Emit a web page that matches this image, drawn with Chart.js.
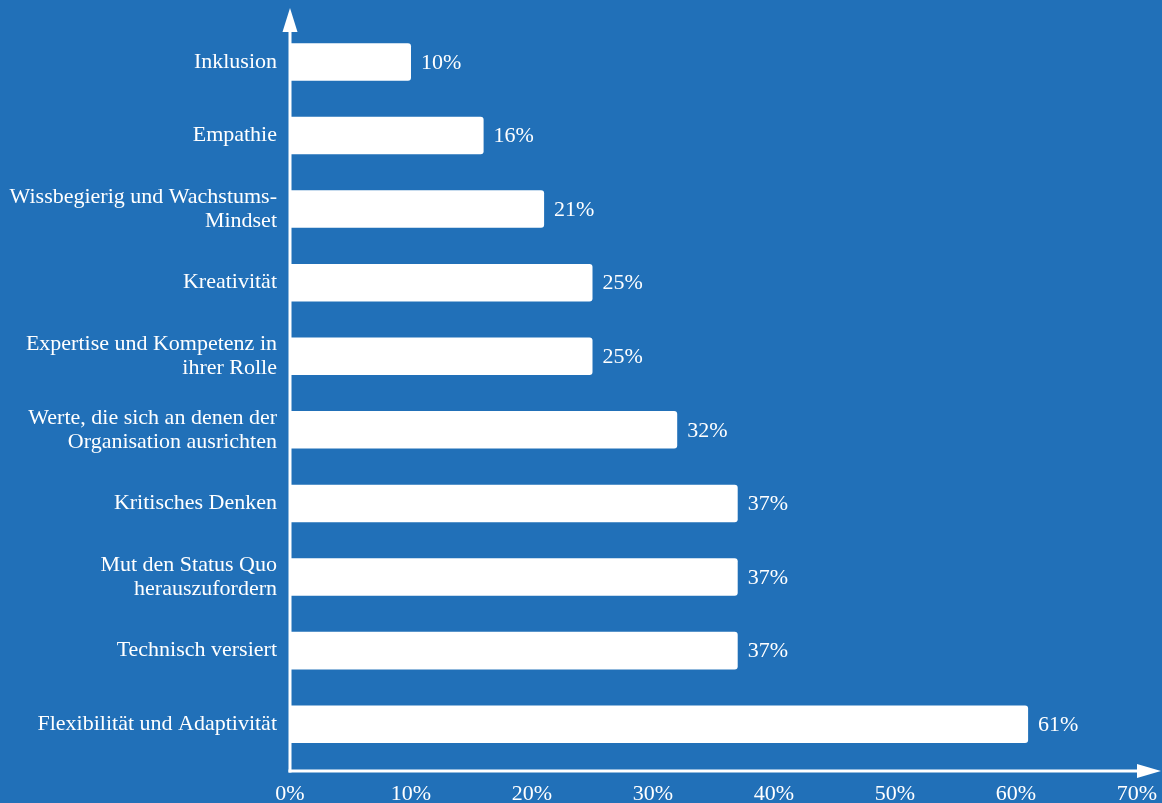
<!DOCTYPE html>
<html lang="de">
<head>
<meta charset="utf-8">
<title>Eigenschaften</title>
<script src="https://cdn.jsdelivr.net/npm/chart.js@4.4.1/dist/chart.umd.min.js"></script>
<style>
  html, body { margin: 0; padding: 0; background: #2170b8; overflow: hidden; }
  #wrap { position: relative; width: 1162px; height: 803px; }
</style>
</head>
<body>
<div id="wrap"><canvas id="barChart"></canvas></div>
<script>
// Kategorien (von oben nach unten) und Anteile in Prozent
const categories = [
    'Inklusion',
    'Empathie',
    ['Wissbegierig und Wachstums-', 'Mindset'],
    'Kreativität',
    ['Expertise und Kompetenz in', 'ihrer Rolle'],
    ['Werte, die sich an denen der', 'Organisation ausrichten'],
    'Kritisches Denken',
    ['Mut den Status Quo', 'herauszufordern'],
    'Technisch versiert',
    'Flexibilität und Adaptivität'
];
const shares = [10, 16, 21, 25, 25, 32, 37, 37, 37, 61];
const xTicks = [0, 10, 20, 30, 40, 50, 60, 70];

const BG = '#2170b8';
const FG = '#ffffff';
const FONT = 'Liberation Serif, Times New Roman, serif';
const FONT_SIZE = 22;

// Achsen mit Pfeilspitzen selbst zeichnen
const arrowAxes = {
    id: 'arrowAxes',
    afterDraw(chart) {
        const { ctx, chartArea } = chart;
        const x0 = chartArea.left;
        const yAxis = chartArea.bottom + 10;
        ctx.save();
        ctx.strokeStyle = FG;
        ctx.fillStyle = FG;
        ctx.lineWidth = 3;

        // y-Achse
        ctx.beginPath();
        ctx.moveTo(x0, yAxis + 1.5);
        ctx.lineTo(x0, 30);
        ctx.stroke();
        ctx.beginPath();
        ctx.moveTo(x0, 8);
        ctx.lineTo(x0 - 7.5, 32);
        ctx.lineTo(x0 + 7.5, 32);
        ctx.closePath();
        ctx.fill();

        // x-Achse
        ctx.beginPath();
        ctx.moveTo(x0 - 1.5, yAxis);
        ctx.lineTo(1140, yAxis);
        ctx.stroke();
        ctx.beginPath();
        ctx.moveTo(1161, yAxis);
        ctx.lineTo(1137, yAxis - 7);
        ctx.lineTo(1137, yAxis + 7);
        ctx.closePath();
        ctx.fill();
        ctx.restore();
    }
};

// Prozentwerte rechts neben den Balken
const valueLabels = {
    id: 'valueLabels',
    afterDatasetsDraw(chart) {
        const { ctx } = chart;
        const meta = chart.getDatasetMeta(0);
        ctx.save();
        ctx.fillStyle = FG;
        ctx.font = FONT_SIZE + 'px ' + FONT;
        ctx.textAlign = 'left';
        ctx.textBaseline = 'middle';
        meta.data.forEach((bar, i) => {
            ctx.fillText(shares[i] + '%', bar.x + 10, bar.y + 1);
        });
        ctx.restore();
    }
};

const ctx = document.getElementById('barChart').getContext('2d');
const barChart = new Chart(ctx, {
    type: 'bar',
    data: {
        labels: categories,
        datasets: [{
            data: shares,
            backgroundColor: FG,
            borderWidth: 0,
            borderRadius: 3,
            categoryPercentage: 1,
            barPercentage: 0.51
        }]
    },
    options: {
        indexAxis: 'y',
        responsive: true,
        maintainAspectRatio: false,
        animation: false,
        layout: { padding: { top: 21, right: 25, left: 0, bottom: 0 } },
        plugins: {
            legend: { display: false },
            tooltip: { enabled: false }
        },
        scales: {
            x: {
                min: 0,
                max: 70,
                afterBuildTicks(scale) {
                    scale.ticks = xTicks.map(v => ({ value: v }));
                },
                afterFit(scale) {
                    scale.height = 42;
                    scale.paddingLeft = 0;
                    scale.paddingRight = 0;
                },
                grid: { display: false, drawTicks: false },
                border: { display: false },
                ticks: {
                    color: FG,
                    padding: 20,
                    maxRotation: 0,
                    font: { family: FONT, size: FONT_SIZE },
                    callback: v => v + '%'
                }
            },
            y: {
                afterFit(scale) { scale.width = 290; },
                grid: { display: false, drawTicks: false },
                border: { display: false },
                ticks: {
                    color: FG,
                    padding: 13,
                    font: { family: FONT, size: FONT_SIZE, lineHeight: 1.1 }
                }
            }
        }
    },
    plugins: [arrowAxes, valueLabels]
});
</script>
</body>
</html>
